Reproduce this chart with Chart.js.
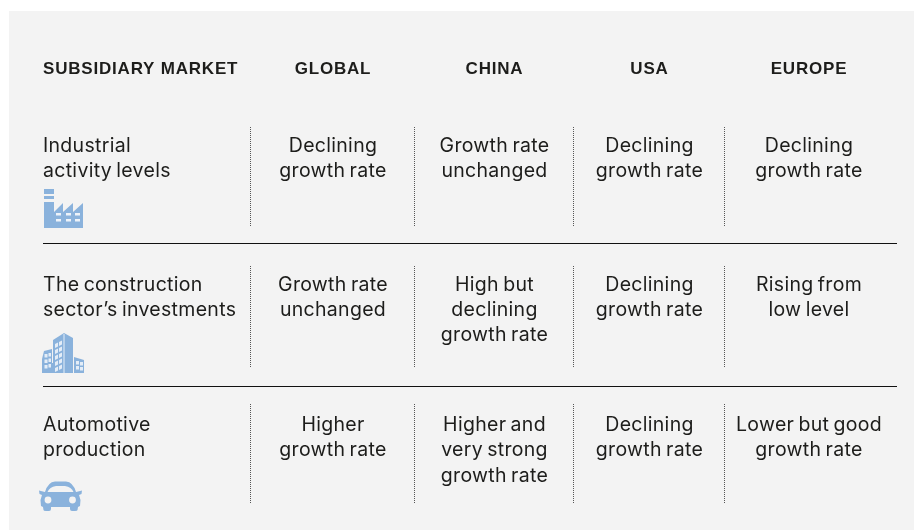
<!DOCTYPE html>
<html>
<head>
<meta charset="utf-8">
<title>Subsidiary market</title>
<script src="https://cdn.jsdelivr.net/npm/chart.js@4"></script>
<style>
html, body { margin: 0; padding: 0; background: #fff; }
canvas { display: block; }
</style>
</head>
<body>
<canvas id="chart-market" width="914" height="530"></canvas>
<script>
const CORNER_LABEL = 'SUBSIDIARY MARKET';
const REGIONS = ['GLOBAL', 'CHINA', 'USA', 'EUROPE'];
const MARKETS = [
	['Industrial', 'activity levels'],
	['The construction', 'sector\u2019s investments'],
	['Automotive', 'production']
];
const INDUSTRIAL_ROW = [
	['Declining', 'growth rate'],
	['Growth rate', 'unchanged'],
	['Declining', 'growth rate'],
	['Declining', 'growth rate']
];
const CONSTRUCTION_ROW = [
	['Growth rate', 'unchanged'],
	['High but', 'declining', 'growth rate'],
	['Declining', 'growth rate'],
	['Rising from', 'low level']
];
const AUTOMOTIVE_ROW = [
	['Higher', 'growth rate'],
	['Higher and', 'very strong', 'growth rate'],
	['Declining', 'growth rate'],
	['Lower but good', 'growth rate']
];

// layout, in the 914x530 space of the scales
const COLUMN_CENTERS = [333, 494.5, 649.5, 809];
const DIVIDER_XS = [250.5, 414.5, 573.5, 724.5];
const ROW_TOPS = [127, 266, 404];
const ROW_BOTTOMS = [227, 367, 504];
const ROW_FIRST_BASELINES = [152, 291, 430.5];
const ROW_LINE_HEIGHTS = [25.2, 25.2, 25.6];
const RULE_YS = [243.5, 386.5];
const ICON_SPOTS = [[63.5, 208.5], [63.5, 353], [60.5, 496]];
const LEFT_X = 43;
const ICON_BLUE = '#8ab2dc';
const TEXT_COLOR = '#1d1d1b';
const BODY_FONT = '400 19.5px Inter';
const HEAD_FONT = '700 17px "Liberation Sans"';

function makeIcon(w, h, draw) {
	var c = document.createElement('canvas');
	c.width = w;
	c.height = h;
	var g = c.getContext('2d');
	g.fillStyle = ICON_BLUE;
	draw(g);
	return c;
}

function poly(g, pts) {
	g.beginPath();
	pts.forEach(function (p, i) {
		if (i == 0) g.moveTo(p[0], p[1]);
		else g.lineTo(p[0], p[1]);
	});
	g.closePath();
	g.fill();
}

var factoryIcon = makeIcon(39, 39, function (g) {
	g.fillRect(0, 0, 10, 5);
	g.fillRect(0, 7, 10, 3);
	poly(g, [[0, 13], [10, 13], [10, 23], [19, 14], [19, 23], [29, 14], [29, 23], [39, 14], [39, 39], [0, 39]]);
	g.fillStyle = '#eef3f9';
	[13, 23, 32].forEach(function (x) {
		g.fillRect(x - 1, 24, 5, 2.5);
		g.fillRect(x - 1, 30, 5, 2.5);
	});
});

var buildingIcon = makeIcon(43, 40, function (g) {
	poly(g, [[0, 26], [2, 18], [10, 16], [10, 40], [0, 40]]);
	poly(g, [[11, 7], [22, 0], [31, 5], [31, 40], [11, 40]]);
	g.fillRect(10, 30, 3, 10);
	poly(g, [[32, 24], [42, 27], [42, 40], [32, 40]]);
	g.fillStyle = '#e4edf7';
	g.fillRect(21.5, 1, 1, 39);
	for (var i = 0; i < 5; i++) {
		poly(g, [[13, 11 + i * 6], [16, 9.5 + i * 6], [16, 13.5 + i * 6], [13, 15 + i * 6]]);
		poly(g, [[17, 9 + i * 6], [20, 7.5 + i * 6], [20, 11.5 + i * 6], [17, 13 + i * 6]]);
	}
	for (var j = 0; j < 3; j++) {
		g.fillRect(2.5, 21 + j * 5.5, 3, 3.5);
		g.fillRect(6.5, 20 + j * 5.5, 2.5, 3.5);
	}
	for (var k = 0; k < 2; k++) {
		g.fillRect(34, 28 + k * 5, 3, 3.5);
		g.fillRect(38, 29 + k * 5, 3, 3.5);
	}
});

var carIcon = makeIcon(43, 30, function (g) {
	g.beginPath();
	g.moveTo(6, 11);
	g.quadraticCurveTo(9, 1, 16, 0.5);
	g.lineTo(27, 0.5);
	g.quadraticCurveTo(34, 1, 37, 11);
	g.lineTo(43, 9.5);
	g.lineTo(42.5, 13);
	g.lineTo(40, 14);
	g.lineTo(41.5, 19);
	g.lineTo(41, 25);
	g.lineTo(39, 26);
	g.lineTo(38.5, 29);
	g.quadraticCurveTo(38.5, 30, 36, 30);
	g.lineTo(33, 30);
	g.quadraticCurveTo(31, 30, 31, 28);
	g.lineTo(31, 26);
	g.lineTo(12, 26);
	g.lineTo(12, 28);
	g.quadraticCurveTo(12, 30, 10, 30);
	g.lineTo(7, 30);
	g.quadraticCurveTo(4.5, 30, 4.5, 29);
	g.lineTo(4, 26);
	g.lineTo(2, 25);
	g.lineTo(1.5, 19);
	g.lineTo(3, 14);
	g.lineTo(0.5, 13);
	g.lineTo(0, 9.5);
	g.closePath();
	g.fill();
	g.fillStyle = '#f3f3f3';
	g.beginPath();
	g.moveTo(8.5, 11);
	g.quadraticCurveTo(10.5, 6, 17, 5);
	g.lineTo(26, 5);
	g.quadraticCurveTo(32.5, 6, 34.5, 11);
	g.closePath();
	g.fill();
	g.beginPath();
	g.arc(9, 19, 3.4, 0, Math.PI * 2);
	g.arc(33.5, 19, 3.4, 0, Math.PI * 2);
	g.fill();
});

var ruleData = [];
RULE_YS.forEach(function (y) {
	ruleData.push({x: LEFT_X, y: y}, {x: 897, y: y}, {x: null, y: null});
});

var dividerData = [];
ROW_TOPS.forEach(function (top, r) {
	DIVIDER_XS.forEach(function (x) {
		dividerData.push({x: x, y: top}, {x: x, y: ROW_BOTTOMS[r]}, {x: null, y: null});
	});
});

var iconData = ICON_SPOTS.map(function (s) {
	return {x: s[0], y: s[1]};
});

var tablePlugin = {
	id: 'tablePlugin',
	beforeDatasetsDraw: function (chart) {
		var ctx = chart.ctx;
		var sx = chart.scales.x;
		var sy = chart.scales.y;
		ctx.save();
		ctx.fillStyle = '#f3f3f3';
		ctx.fillRect(sx.getPixelForValue(9), sy.getPixelForValue(11), 905, 519);
		ctx.restore();
	},
	afterDatasetsDraw: function (chart) {
		var ctx = chart.ctx;
		var sx = chart.scales.x;
		var sy = chart.scales.y;
		var put = function (text, x, y) {
			ctx.fillText(text, sx.getPixelForValue(x), sy.getPixelForValue(y));
		};
		ctx.save();
		ctx.fillStyle = TEXT_COLOR;
		ctx.textBaseline = 'alphabetic';

		ctx.font = HEAD_FONT;
		ctx.letterSpacing = '0.8px';
		ctx.textAlign = 'left';
		put(CORNER_LABEL, LEFT_X, 74);
		ctx.textAlign = 'center';
		REGIONS.forEach(function (name, i) {
			put(name, COLUMN_CENTERS[i], 74);
		});

		ctx.font = BODY_FONT;
		ctx.letterSpacing = '0.3px';
		ctx.wordSpacing = '-1.5px';
		ctx.textAlign = 'left';
		MARKETS.forEach(function (lines, r) {
			lines.forEach(function (line, l) {
				put(line, LEFT_X, ROW_FIRST_BASELINES[r] + l * ROW_LINE_HEIGHTS[r]);
			});
		});
		ctx.textAlign = 'center';
		[INDUSTRIAL_ROW, CONSTRUCTION_ROW, AUTOMOTIVE_ROW].forEach(function (row, r) {
			row.forEach(function (lines, c) {
				lines.forEach(function (line, l) {
					put(line, COLUMN_CENTERS[c], ROW_FIRST_BASELINES[r] + l * ROW_LINE_HEIGHTS[r]);
				});
			});
		});
		ctx.restore();
	}
};

window.marketChart = new Chart(document.getElementById('chart-market').getContext('2d'), {
	type: 'scatter',
	data: {
		datasets: [{
			data: ruleData,
			showLine: true,
			spanGaps: false,
			borderColor: '#111111',
			borderWidth: 1,
			pointRadius: 0
		}, {
			data: dividerData,
			showLine: true,
			spanGaps: false,
			borderColor: '#555555',
			borderWidth: 1,
			borderDash: [1, 1],
			pointRadius: 0
		}, {
			data: iconData,
			showLine: false,
			clip: false,
			pointStyle: [factoryIcon, buildingIcon, carIcon],
			pointRadius: 20
		}]
	},
	options: {
		responsive: false,
		animation: false,
		layout: {padding: 0, autoPadding: false},
		plugins: {
			legend: {display: false},
			tooltip: {enabled: false}
		},
		scales: {
			x: {type: 'linear', min: 0, max: 914, display: false},
			y: {type: 'linear', min: 0, max: 530, reverse: true, display: false}
		}
	},
	plugins: [tablePlugin]
});
</script>
</body>
</html>
